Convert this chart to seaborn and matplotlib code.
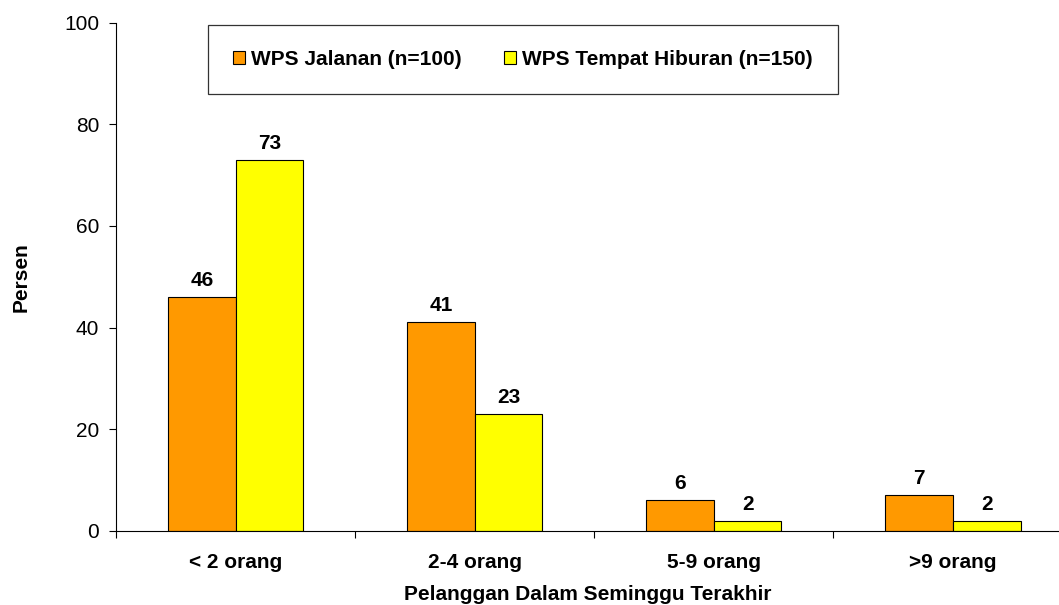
import matplotlib
matplotlib.use("Agg")
import matplotlib.pyplot as plt
import seaborn as sns
import pandas as pd

# Number of clients in the last week, by sex-worker group (percent)
categories = ["< 2 orang", "2-4 orang", "5-9 orang", ">9 orang"]
series_names = ["WPS Jalanan (n=100)", "WPS Tempat Hiburan (n=150)"]
jalanan = [46, 41, 6, 7]
hiburan = [73, 23, 2, 2]
y_ticks = [0, 20, 40, 60, 80, 100]

colors = ["#FF9900", "#FFFF00"]

df = pd.DataFrame({
    "kategori": categories * 2,
    "persen": jalanan + hiburan,
    "kelompok": [series_names[0]] * len(categories) + [series_names[1]] * len(categories),
})

sns.set_style("ticks")
plt.rcParams["font.family"] = ["Liberation Sans", "DejaVu Sans"]
plt.rcParams.update({
    "text.color": "black",
    "axes.labelcolor": "black",
    "xtick.color": "black",
    "ytick.color": "black",
    "axes.edgecolor": "black",
})

W, H = 1059, 605
fig = plt.figure(figsize=(W / 100, H / 100), dpi=100)
ax = fig.add_axes([116 / W, (H - 530.7) / H, (W - 116) / W, 508 / H])

sns.barplot(data=df, x="kategori", y="persen", hue="kelompok",
            palette=colors, width=0.565, edgecolor="black", linewidth=0.8,
            saturation=1, ax=ax)

for cont in ax.containers:
    ax.bar_label(cont, fmt="%d", padding=5, fontsize=15, fontweight="bold", color="black")

ax.set_ylim(0, 100)
ax.set_yticks(y_ticks)
ax.set_xlim(-0.5, len(categories) - 0.557)

# category separators as short ticks, labels at the centres without ticks
ax.set_xticks([i - 0.5 for i in range(len(categories))], minor=True)
ax.tick_params(axis="x", which="major", length=0, pad=16, labelsize=15, labelcolor="black")
ax.tick_params(axis="x", which="minor", length=5, width=0.8, direction="out", color="black")
ax.tick_params(axis="y", length=5, width=0.8, direction="out", pad=7, labelsize=15,
               color="black", labelcolor="black")
for lab in ax.get_xticklabels():
    lab.set_fontweight("bold")

ax.set_xlabel("Pelanggan Dalam Seminggu Terakhir", fontsize=15, fontweight="bold",
              labelpad=9.5, color="black")
ax.set_ylabel("Persen", fontsize=15, fontweight="bold", labelpad=24, color="black")

for side in ("top", "right"):
    ax.spines[side].set_visible(False)
for side in ("left", "bottom"):
    ax.spines[side].set_color("black")
    ax.spines[side].set_linewidth(0.8)

handles, labels = ax.get_legend_handles_labels()
leg = ax.legend(handles, labels, ncol=2, loc="upper left",
                bbox_to_anchor=(208 / W, 1 - 25 / H), bbox_transform=fig.transFigure,
                borderaxespad=0, borderpad=1.2, fancybox=False, framealpha=1,
                edgecolor="#333333", handlelength=0.58, handleheight=0.58,
                handletextpad=0.3, columnspacing=2.0,
                prop={"size": 15, "weight": "bold"})
leg.get_frame().set_linewidth(0.9)
for t in leg.get_texts():
    t.set_color("black")
for h in leg.legend_handles:
    h.set_edgecolor("black")
    h.set_linewidth(0.8)

fig.savefig("out.png", dpi=100, facecolor="white")
